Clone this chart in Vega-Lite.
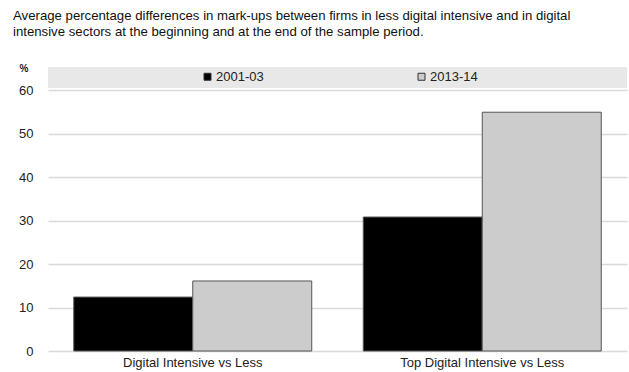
{
  "$schema": "https://vega.github.io/schema/vega-lite/v6.json",
  "autosize": "none",
  "width": 579,
  "height": 284,
  "padding": {"left": 48, "top": 67, "right": 2, "bottom": 21},
  "background": "white",
  "title": {
    "text": ["Average percentage differences in mark-ups between firms in less digital intensive and in digital", "intensive sectors at the beginning and at the end of the sample period."],
    "anchor": "start",
    "frame": "group",
    "dx": -35,
    "offset": 24,
    "fontSize": 13.2,
    "fontWeight": "normal",
    "font": "Liberation Sans",
    "color": "#111111",
    "lineHeight": 16
  },
  "config": {
    "font": "Liberation Sans",
    "view": {"stroke": null},
    "axisY": {"grid": true, "gridColor": "#d9d9d9", "gridWidth": 1.5}
  },
  "layer": [
    {
      "data": {"values": [{}]},
      "mark": {"type": "rect", "color": "#e8e8e8"},
      "encoding": {
        "y": {"datum": 60.45, "type": "quantitative", "scale": {"domain": [0, 65.3], "nice": false, "zero": true}, "axis": {
            "values": [0, 10, 20, 30, 40, 50, 60],
            "grid": true,
            "title": "%",
            "titleAngle": 0,
            "titleAlign": "left",
            "titleBaseline": "middle",
            "titleX": -29,
            "titleY": 1,
            "titleFontSize": 10,
            "titleFontWeight": "bold",
            "titleColor": "#222222",
            "domain": false,
            "ticks": false,
            "labelPadding": 15,
            "labelFontSize": 13,
            "labelColor": "#222222"
          }},
        "y2": {"datum": 65.3}
      }
    },
    {
      "data": {
        "values": [
          {"comparison": "Digital Intensive vs Less", "period": "2001-03", "value": 12.4},
          {"comparison": "Digital Intensive vs Less", "period": "2013-14", "value": 16.1},
          {"comparison": "Top Digital Intensive vs Less", "period": "2001-03", "value": 30.8},
          {"comparison": "Top Digital Intensive vs Less", "period": "2013-14", "value": 54.9}
        ]
      },
      "mark": {"type": "bar", "stroke": "#555555", "strokeWidth": 1},
      "encoding": {
        "x": {
          "field": "comparison",
          "type": "nominal",
          "sort": null,
          "scale": {"paddingInner": 0.178, "paddingOuter": 0.089},
          "axis": {
            "title": null,
            "labelAngle": 0,
            "domain": false,
            "ticks": false,
            "labelPadding": 5,
            "labelFontSize": 13,
            "labelColor": "#222222"
          }
        },
        "xOffset": {"field": "period", "type": "nominal", "scale": {"paddingInner": 0, "paddingOuter": 0}},
        "y": {
          "field": "value",
          "type": "quantitative",
          "scale": {"domain": [0, 65.3], "nice": false},
          "axis": {
            "values": [0, 10, 20, 30, 40, 50, 60],
            "grid": true,
            "title": "%",
            "titleAngle": 0,
            "titleAlign": "left",
            "titleBaseline": "middle",
            "titleX": -29,
            "titleY": 1,
            "titleFontSize": 10,
            "titleFontWeight": "bold",
            "titleColor": "#222222",
            "domain": false,
            "ticks": false,
            "labelPadding": 15,
            "labelFontSize": 13,
            "labelColor": "#222222"
          }
        },
        "color": {
          "field": "period",
          "type": "nominal",
          "scale": {"domain": ["2001-03", "2013-14"], "range": ["#000000", "#cccccc"]},
          "legend": {
            "title": null,
            "orient": "none",
            "legendX": 153,
            "legendY": 3,
            "direction": "horizontal",
            "columnPadding": 151,
            "symbolType": "square",
            "symbolSize": 49,
            "symbolStrokeColor": "#333333",
            "symbolStrokeWidth": 1,
            "labelOffset": 2,
            "labelFontSize": 13,
            "labelColor": "#222222"
          }
        }
      }
    }
  ]
}
